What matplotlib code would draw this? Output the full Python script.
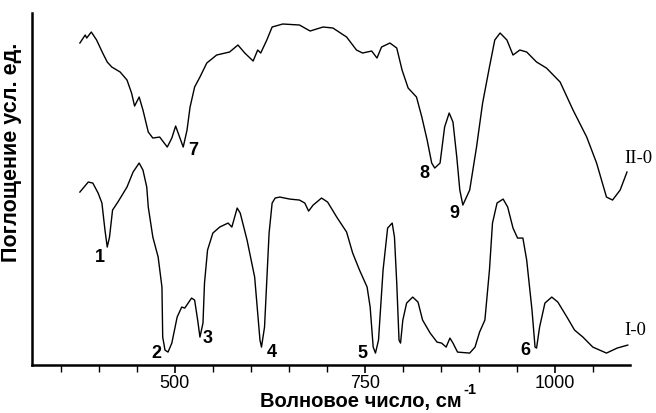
import numpy as np
import matplotlib
matplotlib.use("Agg")
import matplotlib.pyplot as plt
from matplotlib.ticker import MultipleLocator, FixedLocator

plt.rcParams.update({"font.family": "Liberation Sans", "font.size": 13})

# spectrum II-0 (upper curve), wavenumber cm-1 / absorbance a.u.
wn_2 = [375, 382, 384, 390, 397, 405, 411, 417, 428, 437, 443, 447, 453, 458,
        465, 471, 480, 490, 496, 501, 511, 516, 520, 526, 533, 542, 555, 572,
        583, 592, 603, 609, 613, 621, 628, 642, 664, 678, 695, 708, 726, 739,
        747, 759, 766, 772, 783, 792, 799, 807, 818, 825, 832, 838, 842, 849,
        855, 861, 866, 871, 875, 879, 888, 897, 905, 914, 921, 928, 937, 945,
        954, 963, 976, 989, 1007, 1024, 1042, 1055, 1068, 1076, 1086, 1095]
abs_2 = [322, 330, 327, 333, 325, 312, 303, 298, 293, 285, 272, 259, 268, 255,
         233, 227, 228, 218, 227, 239, 218, 235, 258, 278, 288, 302, 310, 313,
         320, 312, 304, 315, 312, 325, 338, 341, 340, 334, 338, 337, 328, 315,
         312, 314, 307, 318, 322, 317, 295, 277, 268, 248, 225, 202, 197, 202,
         238, 252, 243, 208, 175, 160, 175, 218, 262, 298, 325, 332, 325, 310,
         315, 313, 303, 297, 283, 255, 228, 202, 168, 165, 175, 193]

# spectrum I-0 (lower curve)
wn_1 = [375, 386, 392, 399, 404, 408, 411, 414, 418, 425, 437, 445, 453, 458,
        463, 465, 471, 478, 483, 484, 487, 491, 496, 503, 509, 513, 522, 526,
        530, 533, 537, 539, 543, 550, 559, 570, 575, 582, 586, 595, 605, 612,
        614, 618, 621, 624, 628, 632, 638, 651, 664, 671, 676, 682, 693, 701,
        713, 726, 734, 743, 753, 757, 761, 764, 768, 774, 780, 786, 789, 792,
        795, 797, 800, 805, 813, 820, 826, 836, 845, 851, 857, 862, 866, 872,
        888, 895, 901, 908, 914, 918, 924, 932, 938, 945, 951, 958, 963, 970,
        974, 976, 980, 987, 996, 1004, 1016, 1026, 1037, 1050, 1068, 1082, 1096]
abs_1 = [173, 183, 182, 172, 162, 135, 118, 128, 155, 163, 178, 193, 202, 195,
         178, 158, 128, 108, 78, 28, 15, 13, 22, 48, 58, 57, 67, 65,
         45, 28, 42, 82, 115, 132, 138, 142, 138, 157, 152, 125, 88, 25,
         18, 38, 85, 132, 162, 167, 168, 166, 165, 162, 154, 160, 167, 163,
         148, 133, 112, 95, 78, 58, 18, 12, 25, 95, 137, 142, 128, 82,
         25, 22, 45, 62, 68, 63, 45, 32, 23, 22, 18, 27, 22, 13,
         12, 18, 33, 45, 95, 142, 162, 166, 158, 137, 127, 127, 105, 55,
         18, 17, 38, 62, 68, 63, 48, 35, 28, 18, 12, 17, 20]

# band labels: text, wavenumber, absorbance
band_txt = ["1", "2", "3", "4", "5", "6", "7", "8", "9"]
band_wn = [401, 476, 543, 628, 747, 961, 524, 828, 868]
band_abs = [108, 12, 27, 13, 12, 15, 215, 192, 152]

fig = plt.figure(figsize=(6.56, 4.13), dpi=100)
ax = fig.add_axes([0.0488, 0.116, 0.9116, 0.8525])

ax.plot(wn_2, abs_2, color="black", lw=1.0)
ax.plot(wn_1, abs_1, color="black", lw=1.0)

for t, x, y in zip(band_txt, band_wn, band_abs):
    ax.text(x, y, t, ha="center", va="center", fontsize=13,
            fontweight="bold")

ax.text(1092, 207, "II-0", ha="left", va="center", fontsize=13.5,
        family="Liberation Serif")
ax.text(1092, 35, "I-0", ha="left", va="center", fontsize=13.5,
        family="Liberation Serif")

ax.set_xlim(312, 1099)
ax.set_ylim(0, 352)
ax.xaxis.set_major_locator(FixedLocator([500, 750, 1000]))
ax.xaxis.set_minor_locator(MultipleLocator(50))
ax.tick_params(axis="x", which="major", direction="out", length=6, width=1.2,
               labelsize=13, pad=1)
ax.tick_params(axis="x", which="minor", direction="out", length=5, width=1.0)
ax.set_yticks([])
for s in ("top", "right"):
    ax.spines[s].set_visible(False)
for s in ("left", "bottom"):
    ax.spines[s].set_linewidth(1.8)

fig.text(0.018, 0.632, "Поглощение усл. ед.", rotation=90, ha="center",
         va="center", fontsize=15.5, fontweight="bold")

# x label with a separate superscript "-1"
xl = fig.text(0.55, 0.005, "Волновое число, см", ha="center",
              va="bottom", fontsize=14.5, fontweight="bold")
fig.canvas.draw()
bb = xl.get_window_extent().transformed(fig.transFigure.inverted())
fig.text(bb.x1 + 0.002, bb.y1 - 0.012, "-1", ha="left", va="bottom",
         fontsize=10.5, fontweight="bold")

fig.savefig("out.png", dpi=100)
